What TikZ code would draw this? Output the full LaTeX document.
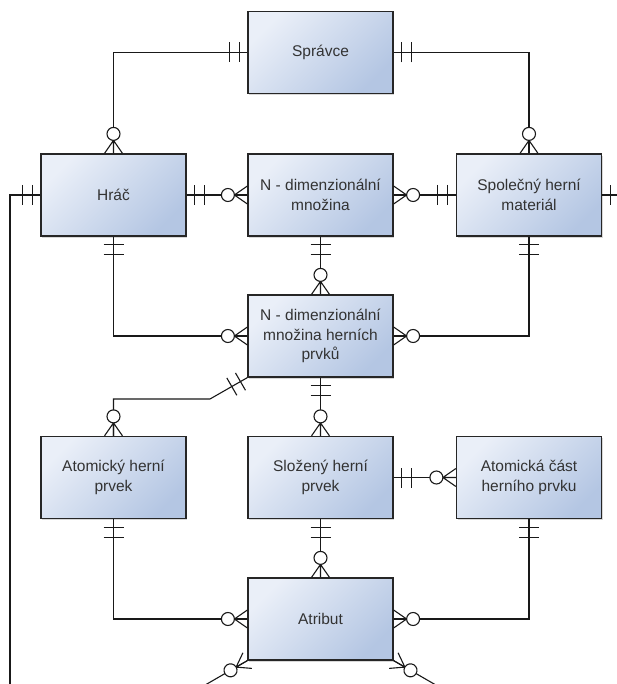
\documentclass[tikz,border=0pt]{standalone}
\usepackage{fontspec}
\setmainfont{Liberation Sans}
\usetikzlibrary{shadows,calc}
\begin{document}
\begin{tikzpicture}[x=1pt,y=1pt,
  zeromany/.pic={\draw (13,0) -- (0,9) (13,0) -- (0,-9) (13,0) -- (0,0);
    \draw [fill=white] (19.5,0) circle (6.5pt);},
  mandone/.pic={\draw (8,-10) -- (8,10) (18,-10) -- (18,10);}]
\tikzstyle{every node}+=[inner sep=0pt]
\tikzstyle{entity}=[draw=black!85, line width=1.2pt, minimum width=145pt, minimum height=82pt,
  align=center, font=\fontsize{15.5}{19.5}\selectfont, text=black!80,
  shading=axis, top color={rgb,255:red,234;green,239;blue,248}, bottom color={rgb,255:red,180;green,198;blue,227},
  shading angle=45, drop shadow={shadow xshift=1.2pt, shadow yshift=-1.6pt, opacity=0.3}]
\tikzstyle{rel}=[line width=1.1pt, black!90]
\useasboundingbox (0,0) rectangle (617,-684);
\fill [white] (0,0) rectangle (617,-684);
\clip (0,0) rectangle (617,-684);
\node [entity] (spravce) at (320.5,-52.5) {Správce};
\node [entity] (hrac) at (113.5,-195) {Hráč};
\node [entity] (ndmn) at (320.5,-195) {N - dimenzionální\\množina};
\node [entity] (spol) at (529,-195) {Společný herní\\materiál};
\node [entity] (ndhp) at (320.5,-336) {N - dimenzionální\\množina herních\\prvků};
\node [entity] (atom) at (113.5,-477.5) {Atomický herní\\prvek};
\node [entity] (slozeny) at (320.5,-477.5) {Složený herní\\prvek};
\node [entity] (atcast) at (529,-477.5) {Atomická část\\herního prvku};
\node [entity] (atribut) at (320.5,-619) {Atribut};
\coordinate (hracend) at (10,-700);
\coordinate (spolend) at (630,-195);
\coordinate (ohyb) at (210,-399);
\coordinate (atrlend) at ($(atribut.south west)+(210:60)$);
\coordinate (atrrend) at ($(atribut.south east)+(330:60)$);
\draw [rel] (spravce.west) -| (hrac.north);
\draw [rel] (spravce.east) -| (spol.north);
\draw [rel] (hrac.east) -- (ndmn.west);
\draw [rel] (ndmn.east) -- (spol.west);
\draw [rel] (spol.east) -- (spolend);
\draw [rel] (hrac.west) -| (hracend);
\draw [rel] (hrac.south) |- (ndhp.west);
\draw [rel] (spol.south) |- (ndhp.east);
\draw [rel] (ndmn.south) -- (ndhp.north);
\draw [rel] (ndhp.south west) -- (ohyb) -| (atom.north);
\draw [rel] (ndhp.south) -- (slozeny.north);
\draw [rel] (slozeny.east) -- (atcast.west);
\draw [rel] (atom.south) |- (atribut.west);
\draw [rel] (slozeny.south) -- (atribut.north);
\draw [rel] (atcast.south) |- (atribut.east);
\draw [rel] (atribut.south west) -- (atrlend);
\draw [rel] (atribut.south east) -- (atrrend);
\pic [rel, rotate=180] at (spravce.west) {mandone};
\pic [rel] at (spravce.east) {mandone};
\pic [rel, rotate=90] at (hrac.north) {zeromany};
\pic [rel, rotate=90] at (spol.north) {zeromany};
\pic [rel] at (hrac.east) {mandone};
\pic [rel, rotate=180] at (ndmn.west) {zeromany};
\pic [rel] at (ndmn.east) {zeromany};
\pic [rel, rotate=180] at (spol.west) {mandone};
\pic [rel] at (spol.east) {mandone};
\pic [rel, rotate=180] at (hrac.west) {mandone};
\pic [rel, rotate=-90] at (hrac.south) {mandone};
\pic [rel, rotate=180] at (ndhp.west) {zeromany};
\pic [rel, rotate=-90] at (spol.south) {mandone};
\pic [rel] at (ndhp.east) {zeromany};
\pic [rel, rotate=-90] at (ndmn.south) {mandone};
\pic [rel, rotate=90] at (ndhp.north) {zeromany};
\pic [rel, rotate=210] at (ndhp.south west) {mandone};
\pic [rel, rotate=90] at (atom.north) {zeromany};
\pic [rel, rotate=-90] at (ndhp.south) {mandone};
\pic [rel, rotate=90] at (slozeny.north) {zeromany};
\pic [rel] at (slozeny.east) {mandone};
\pic [rel, rotate=180] at (atcast.west) {zeromany};
\pic [rel, rotate=-90] at (atom.south) {mandone};
\pic [rel, rotate=180] at (atribut.west) {zeromany};
\pic [rel, rotate=-90] at (slozeny.south) {mandone};
\pic [rel, rotate=90] at (atribut.north) {zeromany};
\pic [rel, rotate=-90] at (atcast.south) {mandone};
\pic [rel] at (atribut.east) {zeromany};
\pic [rel, rotate=210] at (atribut.south west) {zeromany};
\pic [rel, rotate=330] at (atribut.south east) {zeromany};
\end{tikzpicture}
\end{document}
